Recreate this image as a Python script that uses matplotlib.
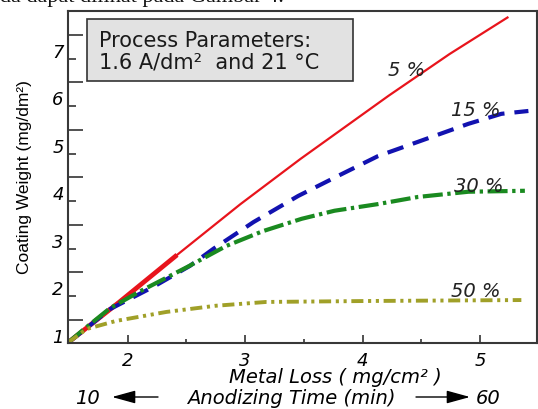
import matplotlib

matplotlib.use("Agg")
import matplotlib.pyplot as plt
from matplotlib.patches import FancyArrowPatch, Rectangle
from matplotlib.transforms import ScaledTranslation

plt.rcParams["font.family"] = ["DejaVu Sans"]

# metal loss (mg/cm2) vs coating weight (mg/dm2)
red_x = [1.49, 1.93, 2.42, 2.96, 3.47, 4.22, 4.74, 5.24]
red_y = [0.52, 1.38, 2.37, 3.44, 4.39, 5.72, 6.60, 7.38]

blue_x = [1.49, 1.62, 1.85, 2.22, 2.53, 2.73, 3.07, 3.45, 3.82, 4.13, 4.47, 4.90, 5.18, 5.41]
blue_y = [0.52, 0.77, 1.23, 1.70, 2.14, 2.50, 3.06, 3.61, 4.07, 4.45, 4.75, 5.13, 5.34, 5.40]

green_x = [1.49, 1.62, 1.85, 2.11, 2.51, 2.84, 3.15, 3.48, 3.76, 4.13, 4.47, 4.90, 5.38]
green_y = [0.52, 0.79, 1.25, 1.61, 2.12, 2.56, 2.87, 3.13, 3.30, 3.44, 3.59, 3.70, 3.72]

olive_x = [1.49, 1.65, 1.90, 2.33, 2.75, 3.18, 4.05, 5.35]
olive_y = [0.52, 0.81, 0.98, 1.17, 1.30, 1.38, 1.40, 1.42]

curve_labels = ["5 %", "15 %", "30 %", "50 %"]
label_x = [4.37, 4.96, 4.99, 4.96]
label_y = [6.28, 5.44, 3.84, 1.63]

x_ticks = [2, 3, 4, 5]
y_ticks = [1, 2, 3, 4, 5, 6, 7]

fig = plt.figure(figsize=(5.38, 4.10), dpi=100)
ax = fig.add_axes([0.1264, 0.161, 0.8717, 0.8098])

ax.plot(red_x, red_y, color="#e8141c", lw=1.6, solid_capstyle="butt")
ax.plot(red_x[:3], red_y[:3], color="#e8141c", lw=3.4, solid_capstyle="butt")
ax.plot(blue_x, blue_y, color="#1212b0", lw=3.0, dashes=(4, 2.4))
ax.plot(green_x, green_y, color="#1a8a20", lw=3.0, dashes=(4.8, 1.1, 0.8, 1.1))
ax.plot(olive_x, olive_y, color="#a0a028", lw=2.8,
        dashes=(3.1, 1.2, 0.8, 1.2, 0.8, 1.2))

for txt, lx, ly in zip(curve_labels, label_x, label_y):
    ax.text(lx, ly, txt, fontsize=14, style="italic", color="#222222",
            ha="center", va="center")

ax.set_xlim(1.492, 5.483)
ax.set_ylim(0.516, 7.505)
ax.set_xticks(x_ticks)
ax.set_xticks([2.5, 3.5, 4.5], minor=True)
ax.set_yticks(y_ticks)
ax.set_yticks([y + 0.5 for y in y_ticks], minor=True)
ax.set_xticklabels([str(v) for v in x_ticks], style="italic", fontsize=13)
ax.set_yticklabels([str(v) for v in y_ticks], style="italic", fontsize=13)

ax.tick_params(axis="x", which="major", direction="in", length=6, width=1.2,
               color="#333333", pad=6)
ax.tick_params(axis="x", which="minor", direction="in", length=3, width=1.2,
               color="#333333")
ax.tick_params(axis="y", which="major", direction="in", length=11, width=1.2,
               color="#333333", pad=3)
ax.tick_params(axis="y", which="minor", direction="in", length=6, width=1.2,
               color="#333333")

# the y labels in the source sit below their tick marks
shift = ScaledTranslation(0, -0.15, fig.dpi_scale_trans)
for lab in ax.get_yticklabels():
    lab.set_transform(lab.get_transform() + shift)

for sp in ax.spines.values():
    sp.set_color("#383838")
    sp.set_linewidth(1.5)

fig.add_artist(Rectangle((87 / 538, 1 - 82 / 410), 266 / 538, 62 / 410,
                         transform=fig.transFigure, fc="#e2e2e2",
                         ec="#333333", lw=1.2))
fig.text(99 / 538, 1 - 52 / 410,
         "Process Parameters:\n1.6 A/dm\u00b2  and 21 \u00b0C",
         ha="left", va="center", fontsize=15, color="#1a1a1a",
         linespacing=1.1)

fig.text(0.046, 1 - 177 / 410, "Coating Weight (mg/dm\u00b2)", rotation=90,
         ha="center", va="center", fontsize=12.5,
         family=["Liberation Sans", "DejaVu Sans"])

fig.text(335 / 538, 1 - 378 / 410, "Metal Loss ( mg/cm\u00b2 )", ha="center",
         va="center", fontsize=14, style="italic")
fig.text(87 / 538, 1 - 399 / 410, "10", ha="center", va="center",
         fontsize=14, style="italic")
fig.text(291 / 538, 1 - 399 / 410, "Anodizing Time (min)", ha="center",
         va="center", fontsize=14, style="italic")
fig.text(488 / 538, 1 - 399 / 410, "60", ha="center", va="center",
         fontsize=14, style="italic")

arrow = dict(arrowstyle="-|>,head_length=0.8,head_width=0.22", color="black",
             lw=1.0, mutation_scale=18, shrinkA=0, shrinkB=0)
fig.add_artist(FancyArrowPatch((158 / 538, 1 - 398 / 410),
                               (112 / 538, 1 - 398 / 410),
                               transform=fig.transFigure, **arrow))
fig.add_artist(FancyArrowPatch((416 / 538, 1 - 398 / 410),
                               (470 / 538, 1 - 398 / 410),
                               transform=fig.transFigure, **arrow))

# cropped line of body text above the figure (only its lower part shows)
fig.text(0.0, 1 - 2 / 410, "da dapat dilihat pada Gambar 4.", ha="left",
         va="baseline", fontsize=16, family=["Liberation Serif"],
         color="#111111")

fig.savefig("out.png", dpi=100)
